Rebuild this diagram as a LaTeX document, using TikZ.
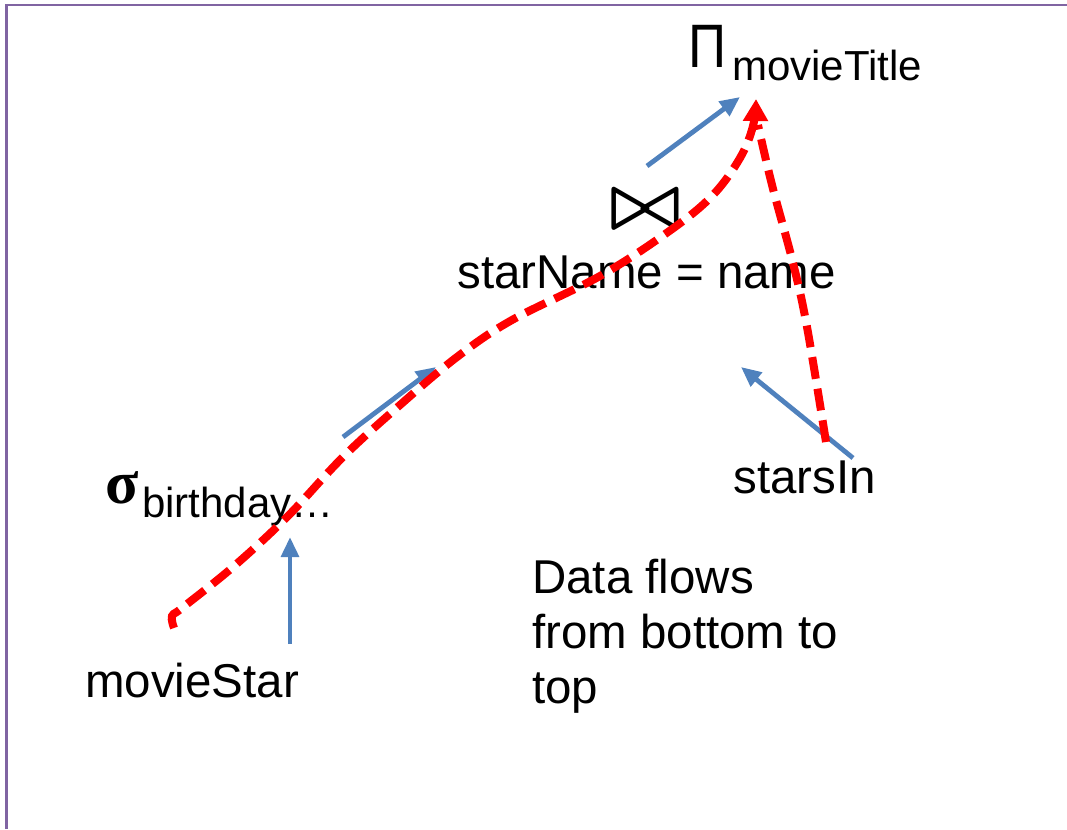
\documentclass[tikz,border=0pt]{standalone}
\usepackage{fontspec}
\setmainfont{Liberation Sans}
\newfontfamily\greekserif{Liberation Serif}
\usetikzlibrary{arrows.meta}
\definecolor{flowblue}{RGB}{79,129,189}
\definecolor{framepurple}{RGB}{128,100,162}
\tikzset{
  lbl/.style={anchor=base west, inner sep=0pt, font=\fontsize{35.6}{41.25}\selectfont},
  sub/.style={anchor=base west, inner sep=0pt, font=\fontsize{31.5}{38}\selectfont},
  flow/.style={draw=flowblue, line width=3.6pt, -{Triangle[length=15pt,width=13pt]}},
  datapath/.style={draw=red, line width=6pt, dash pattern=on 16.5pt off 7.5pt}
}
\begin{document}
\begin{tikzpicture}[x=0.75pt,y=-0.75pt]
\useasboundingbox (0,0) rectangle (1067,829);
\draw[framepurple, line width=1.6pt] (6.5,829) -- (6.5,5) -- (1067,5);

% operators and relations
\node[anchor=base west, inner sep=0pt, font=\fontsize{46}{50}\selectfont] (pi) at (688,67) {\scalebox{0.86}[1]{Π}};
\node[sub] (title) at (732,80) {movieTitle};
\node[inner sep=0pt] (join) at (645.5,210) {\scalebox{5.6}{\boldmath$\bowtie$}};
\node[lbl] (cond) at (457,288) {starName = name};
\node[anchor=base west, inner sep=0pt, font=\greekserif\bfseries\fontsize{46}{50}\selectfont] (sigma) at (105,503) {σ};
\node[sub] (bday) at (142,517) {birthday…};
\node[lbl] (stars) at (733,493) {starsIn};
\node[lbl] (movie) at (85,697) {movieStar};
\node[lbl, align=left] (note) at (532,703) {Data flows\\from bottom to\\top};

% blue flow arrows
\coordinate (mvtop) at (290,644);
\coordinate (selin) at (290,537);
\coordinate (selout) at (343,437);
\coordinate (joinin) at (436,367);
\coordinate (sinout) at (853,458);
\coordinate (joinright) at (741,367);
\coordinate (joinout) at (647,166);
\coordinate (projin) at (740,97);
\draw[flow] (mvtop) -- (selin);
\draw[flow] (selout) -- (joinin);
\draw[flow] (sinout) -- (joinright);
\draw[flow] (joinout) -- (projin);

% red data paths
\draw[datapath, -{Triangle[length=16.5pt,width=18pt]}] plot[smooth, tension=0.6] coordinates {(174,628) (172,616) (182,608) (233,567) (287,517) (343,457) (400,405) (457,357) (512,320) (600,276) (668,232) (712,196) (740,158) (753,126) (756,99)};
\draw[datapath] plot[smooth, tension=0.6] coordinates {(826,442) (807,327) (793,263) (772,185) (758,125)};
\end{tikzpicture}
\end{document}
